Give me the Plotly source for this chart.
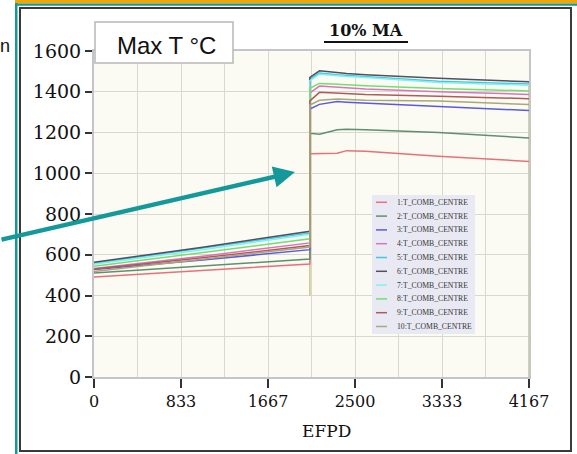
import plotly.graph_objects as go

# ---------------- data ----------------
efpd = [0, 1040, 2068, 2068, 2160, 2330, 2420, 2600, 3300, 4167]

tc1 = [491, 522, 555, 1096, 1096, 1098, 1111, 1108, 1083, 1058]
tc2 = [510, 543, 579, 1196, 1192, 1213, 1216, 1214, 1200, 1173]
tc3 = [527, 574, 625, 1315, 1338, 1352, 1349, 1345, 1330, 1308]
tc4 = [533, 593, 658, 1395, 1428, 1422, 1419, 1414, 1400, 1387]
tc5 = [558, 632, 707, 1462, 1492, 1484, 1481, 1475, 1452, 1438]
tc6 = [563, 637, 715, 1471, 1503, 1493, 1490, 1484, 1466, 1449]
tc7 = [553, 625, 700, 1455, 1486, 1478, 1475, 1470, 1446, 1432]
tc8 = [543, 610, 678, 1417, 1441, 1437, 1434, 1430, 1416, 1404]
tc9 = [530, 585, 645, 1355, 1397, 1392, 1390, 1386, 1378, 1366]
tc10 = [518, 578, 638, 1335, 1358, 1365, 1362, 1358, 1354, 1337]

series_names = ["1:T_COMB_CENTRE", "2:T_COMB_CENTRE", "3:T_COMB_CENTRE",
                "4:T_COMB_CENTRE", "5:T_COMB_CENTRE", "6:T_COMB_CENTRE",
                "7:T_COMB_CENTRE", "8:T_COMB_CENTRE", "9:T_COMB_CENTRE",
                "10:T_COMB_CENTRE"]

boundary_efpd = [2068, 2068, None, 4167, 4167]
boundary_temp = [400, 1471, None, 1449, 0]

x_tickvals = [0, 833.4, 1666.8, 2500.2, 3333.6, 4167]
x_ticktext = ["0", "833", "1667", "2500", "3333", "4167"]
y_tickvals = [0, 200, 400, 600, 800, 1000, 1200, 1400, 1600]

# ---------------- styling ----------------
colors = ["#e8707a", "#5f8f6f", "#5a5ae0", "#e070c0", "#40c8e0",
          "#505060", "#80f0f0", "#70e070", "#b05a5a", "#a8a878"]

W, H = 577, 454
L, R, T, B = 94, 48, 51, 77
PW = W - L - R
PH = H - T - B


def px(x):
    return (x - L) / PW


def py(y):
    return (H - B - y) / PH


fig = go.Figure()

fig.add_trace(go.Scatter(x=boundary_efpd, y=boundary_temp, mode="lines",
                         line=dict(color="#c8c488", width=1.5),
                         showlegend=False, hoverinfo="skip"))

all_series = [tc1, tc2, tc3, tc4, tc5, tc6, tc7, tc8, tc9, tc10]
for name, vals, col in zip(series_names, all_series, colors):
    fig.add_trace(go.Scatter(x=efpd, y=vals, mode="lines", name=name,
                             line=dict(color=col, width=1.5),
                             showlegend=False))

shapes = []
annotations = []


def note(x, y, text, font, xanchor="center", yanchor="middle"):
    annotations.append(dict(xref="paper", yref="paper", x=px(x), y=py(y),
                            xanchor=xanchor, yanchor=yanchor, text=text,
                            showarrow=False, font=font))


# slide decorations
shapes.append(dict(type="rect", xref="paper", yref="paper",
                   x0=px(15), x1=px(580), y0=py(0), y1=py(3.5),
                   fillcolor="#f6a500", line=dict(width=0)))
shapes.append(dict(type="rect", xref="paper", yref="paper",
                   x0=px(15), x1=px(580), y0=py(3.5), y1=py(5.8),
                   fillcolor="#13999a", line=dict(width=0)))
shapes.append(dict(type="rect", xref="paper", yref="paper",
                   x0=px(15), x1=px(17.5), y0=py(3), y1=py(456),
                   fillcolor="#13999a", line=dict(width=0)))
shapes.append(dict(type="rect", xref="paper", yref="paper",
                   x0=px(20), x1=px(571), y0=py(8), y1=py(451),
                   line=dict(color="#3a3a3a", width=2)))

# Max T box
shapes.append(dict(type="rect", xref="paper", yref="paper",
                   x0=px(95), x1=px(233), y0=py(22), y1=py(63),
                   fillcolor="white", line=dict(color="#b8b8b8", width=1.5),
                   layer="above"))
note(166, 45, "Max T °C",
     dict(family="Liberation Sans", size=24, color="#111"))

# title
note(366, 31, "<b>10% MA</b>",
     dict(family="DejaVu Serif", size=16, color="#111"))
shapes.append(dict(type="line", xref="paper", yref="paper",
                   x0=px(324), x1=px(408), y0=py(42), y1=py(42),
                   line=dict(color="#111", width=2)))

# x axis title
note(326, 431, "EFPD", dict(family="DejaVu Serif", size=17, color="#111"))

# slide text at the left edge
note(-2, 46, "n", dict(family="Liberation Sans", size=18, color="#111"),
     xanchor="left")

# legend drawn manually
shapes.append(dict(type="rect", xref="paper", yref="paper",
                   x0=px(372), x1=px(475), y0=py(195), y1=py(334),
                   fillcolor="#e9e9f3", line=dict(width=0), layer="above"))
for i, (name, col) in enumerate(zip(series_names, colors)):
    yy = 202.3 + 13.8 * i
    shapes.append(dict(type="line", xref="paper", yref="paper",
                       x0=px(376), x1=px(387), y0=py(yy), y1=py(yy),
                       line=dict(color=col, width=1.5), layer="above"))
    note(395, yy, name, dict(family="Liberation Serif", size=7.7,
                             color="#333"), xanchor="left")

# teal arrow
annotations.append(dict(xref="paper", yref="paper", x=px(295), y=py(172),
                        axref="pixel", ayref="pixel", ax=-295, ay=68,
                        text="", showarrow=True, arrowhead=2, arrowsize=0.95,
                        arrowwidth=4.5, arrowcolor="#13999a", standoff=0))

fig.update_layout(
    width=W, height=H,
    margin=dict(l=L, r=R, t=T, b=B),
    paper_bgcolor="white",
    plot_bgcolor="#fbfbf3",
    showlegend=False,
    shapes=shapes,
    annotations=annotations,
)

fig.update_xaxes(range=[0, 4167], tickvals=x_tickvals, ticktext=x_ticktext,
                 showgrid=True, gridcolor="#d8d8d2", gridwidth=1.2,
                 minor=dict(tick0=0, dtick=416.7, showgrid=True,
                            gridcolor="#d8d8d2", gridwidth=1.2, ticks=""),
                 showline=True, linecolor="#c4c4cc", linewidth=2, mirror=True,
                 ticks="outside", ticklen=9, tickwidth=1.5, tickcolor="#333",
                 zeroline=False,
                 tickfont=dict(family="DejaVu Serif", size=16, color="#111"))
fig.update_yaxes(range=[0, 1600], tickvals=y_tickvals,
                 showgrid=True, gridcolor="#d8d8d2", gridwidth=1.2,
                 showline=True, linecolor="#c4c4cc", linewidth=2, mirror=True,
                 ticks="outside", ticklen=7, tickwidth=1.5, tickcolor="#333",
                 zeroline=False,
                 tickfont=dict(family="DejaVu Serif", size=19, color="#111"))

fig.write_html("out.html",
               config={"displayModeBar": False},
               post_script="document.body.style.margin='0';")
